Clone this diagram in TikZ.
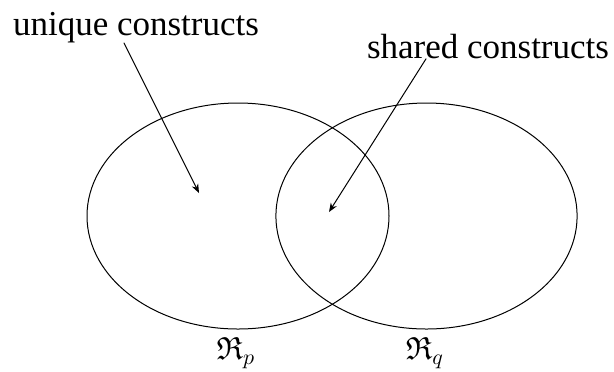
\documentclass[tikz,border=0pt]{standalone}
\usepackage{amssymb}
\usepackage{fontspec}
\setmainfont{Liberation Serif}
\usetikzlibrary{arrows.meta}
\begin{document}
\begin{tikzpicture}[x=0.5pt, y=-0.5pt, line width=0.5pt, line join=round, line cap=round, >={Stealth[length=4.5pt,width=3.5pt]}]
\tikzset{lbl/.style={font=\fontsize{17.5}{20}\selectfont, inner sep=0pt, anchor=base},
  setlbl/.style={font=\fontsize{16}{18}\selectfont, inner sep=0pt, anchor=base}}
\useasboundingbox (0,0) rectangle (614,371);
\draw (238,216) ellipse [x radius=75.5pt, y radius=56.5pt];
\draw (426.5,216) ellipse [x radius=75.3pt, y radius=56.5pt];
\node[lbl] (unique) at (136,35) {unique constructs};
\node[lbl] (shared) at (488,58) {shared constructs};
\node[setlbl] (Rp) at (236,359) {$\mathfrak{R}_p$};
\node[setlbl] (Rq) at (425,359) {$\mathfrak{R}_q$};
\coordinate (uin) at (199,193);
\coordinate (sin) at (329,212);
\draw[->] ([xshift=-6pt]unique.south) -- (uin);
\draw[->] ([xshift=-31pt]shared.south) -- (sin);
\end{tikzpicture}
\end{document}
